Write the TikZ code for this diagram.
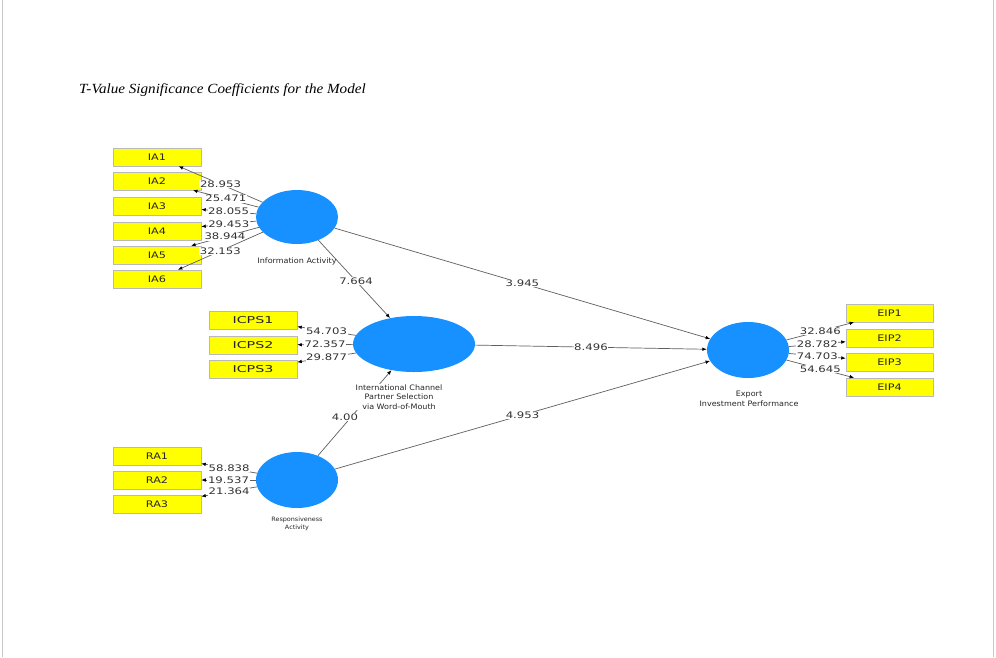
\documentclass[tikz,border=0pt]{standalone}
\usepackage{fontspec}
\setmainfont{Liberation Serif}
\newfontfamily\titlefont[FakeStretch=1.08]{Liberation Serif}
\newfontfamily\boxfont[FakeStretch=1.25]{DejaVu Sans}
\newfontfamily\icpsfont[FakeStretch=1.5]{DejaVu Sans}
\newfontfamily\numfont[FakeStretch=1.3]{DejaVu Sans}
\newfontfamily\smallfont[FakeStretch=1.07]{DejaVu Sans}
\usetikzlibrary{shapes.geometric,arrows.meta}
\definecolor{lvblue}{RGB}{22,145,255}
\definecolor{indyellow}{RGB}{255,255,0}
\definecolor{edgegray}{RGB}{95,95,95}
\definecolor{framegray}{RGB}{200,200,200}
\tikzset{
  lv/.style={ellipse, fill=lvblue, draw=none, inner sep=0pt},
  ind/.style={rectangle, fill=indyellow, draw=gray!55, line width=0.5pt,
    minimum width=88pt, minimum height=18pt, inner sep=0pt,
    font=\boxfont\fontsize{9}{10}\selectfont, text=black!85},
  icps/.style={ind, font=\icpsfont\fontsize{9.5}{10}\selectfont},
  con/.style={draw=edgegray, line width=0.7pt, -{Latex[length=4.5pt,width=3.6pt,color=black]}},
  lbl/.style={fill=white, inner sep=0.6pt, pos=0.5,
    font=\numfont\fontsize{9}{10}\selectfont, text=black!80},
  desc/.style={font=\smallfont\fontsize{7.5}{9.4}\selectfont, align=center, inner sep=0pt, text=black!85},
  tinydesc/.style={font=\smallfont\fontsize{6}{8}\selectfont, align=center, inner sep=0pt, text=black!85},
  frameline/.style={draw=framegray, line width=1pt},
}
\begin{document}
\begin{tikzpicture}[x=1pt,y=-1pt]
\useasboundingbox (0,0) rectangle (996,657);
\fill[white] (0,0) rectangle (996,657);
% frame side lines
\coordinate (fl1) at (2,0); \coordinate (fl2) at (2,657);
\coordinate (fr1) at (993,0); \coordinate (fr2) at (993,657);
\draw[frameline] (fl1) -- (fl2);
\draw[frameline] (fr1) -- (fr2);

% title
\node[anchor=base west, inner sep=0pt, font=\titlefont\itshape\fontsize{14}{16}\selectfont] (title) at (79,93)
  {T-Value Significance Coefficients for the Model};

% latent variables
\node[lv, minimum width=82pt, minimum height=54pt] (IA) at (297,217) {};
\node[lv, minimum width=122pt, minimum height=56pt] (ICPS) at (414,344) {};
\node[lv, minimum width=82pt, minimum height=56pt] (RA) at (297,480) {};
\node[lv, minimum width=82pt, minimum height=56pt] (EIP) at (748,350) {};

% indicators
\node[ind] (IA1) at (157,157) {IA1};
\node[ind] (IA2) at (157,181) {IA2};
\node[ind] (IA3) at (157,206) {IA3};
\node[ind] (IA4) at (157,231) {IA4};
\node[ind] (IA5) at (157,255) {IA5};
\node[ind] (IA6) at (157,279) {IA6};

\node[icps] (ICPS1) at (253,320) {ICPS1};
\node[icps] (ICPS2) at (253,345) {ICPS2};
\node[icps] (ICPS3) at (253,369) {ICPS3};

\node[ind] (RA1) at (157,456) {RA1};
\node[ind] (RA2) at (157,480) {RA2};
\node[ind] (RA3) at (157,504) {RA3};

\node[ind, minimum width=87pt] (EIP1) at (889.5,313) {EIP1};
\node[ind, minimum width=87pt] (EIP2) at (889.5,338) {EIP2};
\node[ind, minimum width=87pt] (EIP3) at (889.5,362) {EIP3};
\node[ind, minimum width=87pt] (EIP4) at (889.5,387) {EIP4};

% structural paths
\draw[con] (IA) -- node[lbl, pos=0.525] {7.664} (ICPS);
\draw[con] (IA) -- node[lbl] {3.945} (EIP);
\draw[con] (ICPS) -- node[lbl] {8.496} (EIP);
\draw[con] (RA) -- (ICPS);
\draw[con] (RA) -- node[lbl] {4.953} (EIP);

% outer loadings
\draw[con] (IA) -- node[lbl] {28.953} (IA1);
\draw[con] (IA) -- node[lbl] {25.471} (IA2);
\draw[con] (IA) -- node[lbl] {28.055} (IA3);
\draw[con] (IA) -- node[lbl] {29.453} (IA4);
\draw[con] (IA) -- node[lbl] {38.944} (IA5);
\draw[con] (IA) -- node[lbl] {32.153} (IA6);

\draw[con] (ICPS) -- node[lbl] {54.703} (ICPS1);
\draw[con] (ICPS) -- node[lbl] {72.357} (ICPS2);
\draw[con] (ICPS) -- node[lbl] {29.877} (ICPS3);

\draw[con] (RA) -- node[lbl] {58.838} (RA1);
\draw[con] (RA) -- node[lbl] {19.537} (RA2);
\draw[con] (RA) -- node[lbl] {21.364} (RA3);

\draw[con] (EIP) -- node[lbl] {32.846} (EIP1);
\draw[con] (EIP) -- node[lbl] {28.782} (EIP2);
\draw[con] (EIP) -- node[lbl] {74.703} (EIP3);
\draw[con] (EIP) -- node[lbl] {54.645} (EIP4);

% construct names
\node[desc] (IAname) at (297,261) {Information Activity};
\node[desc, fill=white, inner sep=0.5pt] (ICPSname) at (399,397) {International Channel\\Partner Selection\\via Word-of-Mouth};
\node[desc] (EIPname) at (749,399) {Export\\Investment Performance};
\node[tinydesc] (RAname) at (297,524) {Responsiveness\\Activity};

% label of RA -> ICPS path, above the construct name
\path (RA) -- node[lbl, pos=0.45, xshift=-6pt] {4.00} (ICPS);
\end{tikzpicture}
\end{document}
